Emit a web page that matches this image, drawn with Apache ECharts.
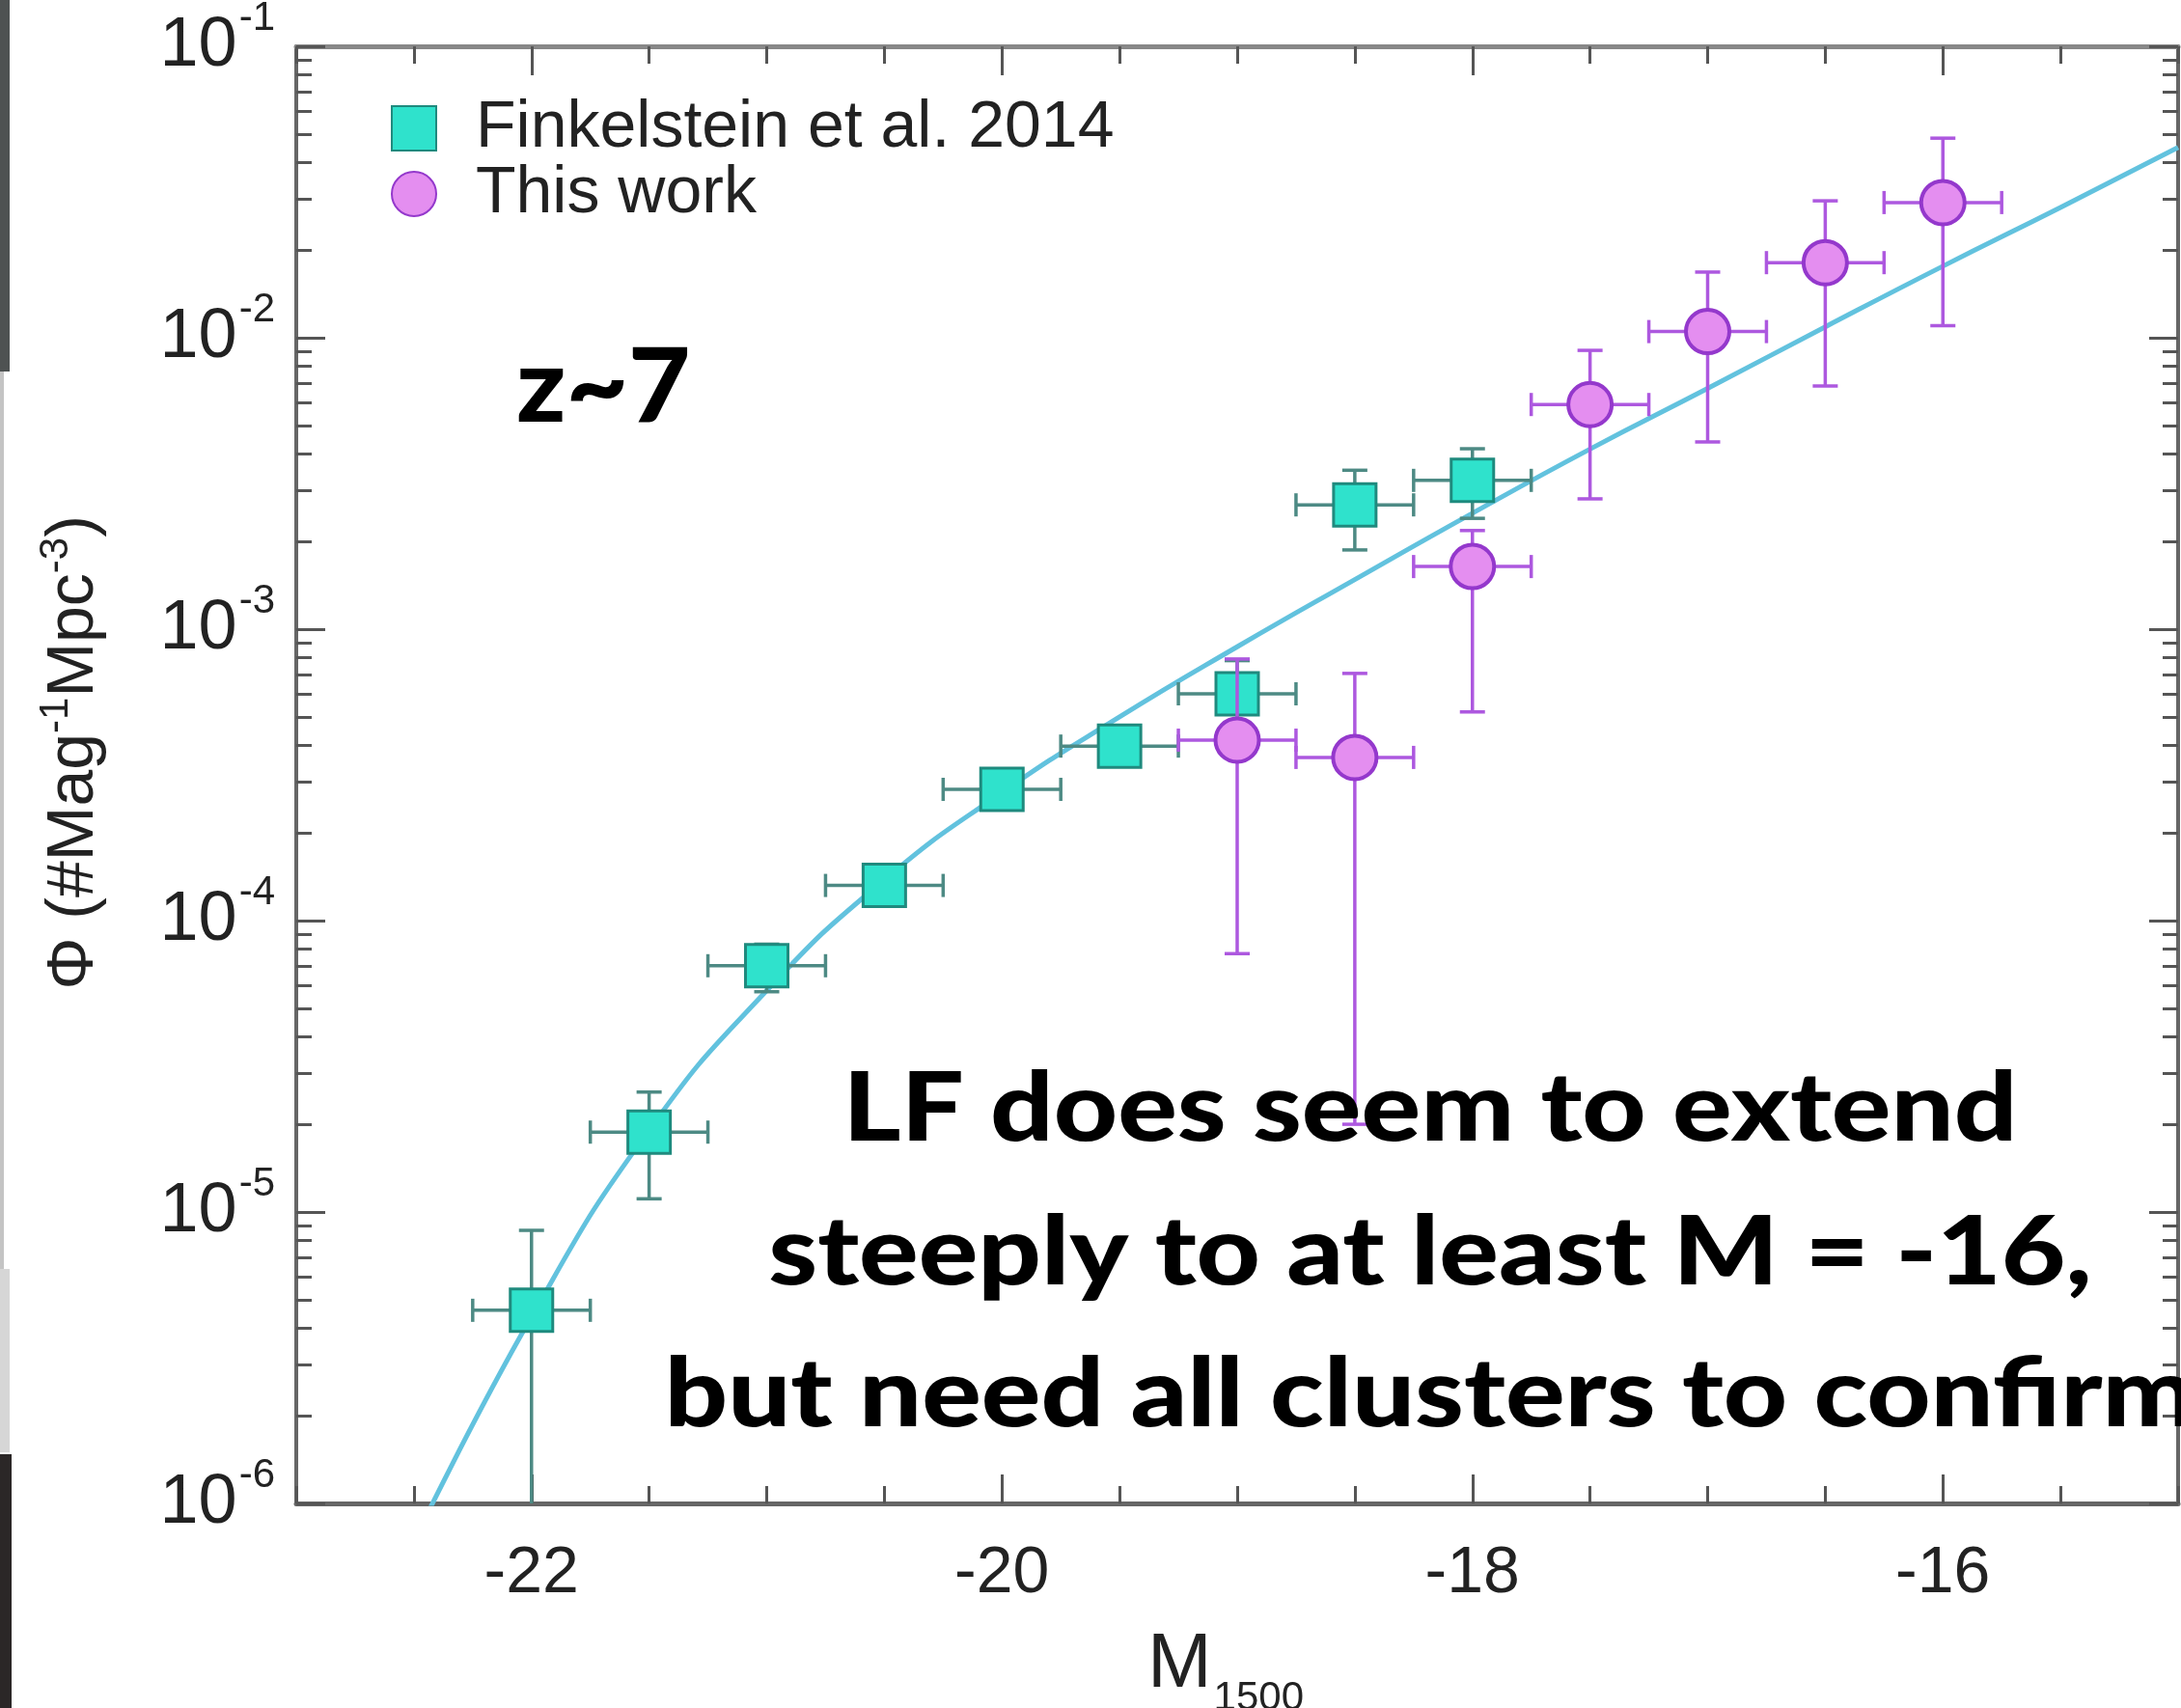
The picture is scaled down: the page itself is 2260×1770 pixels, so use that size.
<!DOCTYPE html>
<html><head><meta charset="utf-8">
<script src="https://cdn.jsdelivr.net/npm/echarts@6/dist/echarts.min.js"></script>
<style>html,body{margin:0;padding:0;background:#fff;}#c{width:2260px;height:1770px;}</style>
</head><body><div id="c"></div>
<script>
// ---------- data ----------
const xTickLabels = [-22, -20, -18, -16];
const xMinorStep = 0.5;
const yDecades = [1e-6, 1e-5, 1e-4, 1e-3, 1e-2, 1e-1];
const yDecadeExponents = ['-6', '-5', '-4', '-3', '-2', '-1'];
const yMinorMultipliers = [2, 3, 4, 5, 6, 7, 8, 9];

// Finkelstein et al. 2014 (squares)
const finkM    = [-22, -21.5, -21, -20.5, -20, -19.5, -19, -18.5, -18];
const finkPhi  = [4.6e-6, 1.88e-5, 7.0e-5, 1.32e-4, 2.82e-4, 3.97e-4, 6.0e-4, 2.67e-3, 3.24e-3];
const finkLo   = [1e-7, 1.11e-5, 5.7e-5, 1.2e-4, 2.6e-4, 3.65e-4, 4.6e-4, 1.87e-3, 2.4e-3];
const finkHi   = [8.65e-6, 2.58e-5, 8.3e-5, 1.45e-4, 3.05e-4, 4.3e-4, 7.8e-4, 3.51e-3, 4.16e-3];
const finkMErr = [0.25, 0.25, 0.25, 0.25, 0.25, 0.25, 0.25, 0.25, 0.25];

// This work (circles)
const workM    = [-19, -18.5, -18, -17.5, -17, -16.5, -16];
const workPhi  = [4.16e-4, 3.63e-4, 1.64e-3, 5.9e-3, 1.05e-2, 1.81e-2, 2.91e-2];
const workLo   = [7.7e-5, 2.0e-5, 5.2e-4, 2.8e-3, 4.39e-3, 6.83e-3, 1.10e-2];
const workHi   = [7.9e-4, 7.05e-4, 2.18e-3, 9.05e-3, 1.68e-2, 2.95e-2, 4.84e-2];
const workMErr = [0.25, 0.25, 0.25, 0.25, 0.25, 0.25, 0.25];

// fitted luminosity function curve
const fitM   = [-22.5, -22.0, -21.5, -21.0, -20.5, -20.0, -19.5, -19.0, -18.5, -18.0, -17.5, -17.0, -16.5, -16.0, -15.5, -15.0];
const fitPhi = [7.4e-7, 4.37e-6, 1.91e-5, 5.75e-5, 1.38e-4, 2.75e-4, 5.0e-4, 8.7e-4, 1.48e-3, 2.5e-3, 4.15e-3, 6.7e-3, 1.09e-2, 1.76e-2, 2.8e-2, 4.5e-2];

// ---------- build ----------
const yMinorTicks = [];
yDecades.slice(0, -1).forEach(d => yMinorMultipliers.forEach(k => yMinorTicks.push(k * d)));

const FONT = 'Liberation Sans, Arial, Helvetica, sans-serif';
const AXIS_COLOR = '#666';
const TICK_COLOR = '#555';
const TEXT_COLOR = '#222';

const finkData = finkM.map((m, i) => [m, finkPhi[i]]);
const workData = workM.map((m, i) => [m, workPhi[i]]);
const finkErr = finkM.map((m, i) => [m, finkPhi[i], finkLo[i], finkHi[i], finkMErr[i]]);
const workErr = workM.map((m, i) => [m, workPhi[i], workLo[i], workHi[i], workMErr[i]]);
const fitData = fitM.map((m, i) => [m, fitPhi[i]]);

function errRender(color, lw, capW, capH) {
  return function (params, api) {
    const m = api.value(0), phi = api.value(1), lo = api.value(2), hi = api.value(3), dm = api.value(4);
    const c = api.coord([m, phi]);
    const l = api.coord([m - dm, phi])[0];
    const r = api.coord([m + dm, phi])[0];
    const t = api.coord([m, hi])[1];
    const b = api.coord([m, lo])[1];
    const style = { stroke: color, lineWidth: lw, fill: null };
    const ln = (x1, y1, x2, y2) => ({ type: 'line', shape: { x1, y1, x2, y2 }, style });
    return {
      type: 'group',
      children: [
        ln(l, c[1], r, c[1]),
        ln(l, c[1] - capH / 2, l, c[1] + capH / 2),
        ln(r, c[1] - capH / 2, r, c[1] + capH / 2),
        ln(c[0], t, c[0], b),
        ln(c[0] - capW / 2, t, c[0] + capW / 2, t),
        ln(c[0] - capW / 2, b, c[0] + capW / 2, b)
      ]
    };
  };
}

const common = { min: -23, max: -15, type: 'value', splitLine: { show: false } };
const commonY = { type: 'log', logBase: 10, min: 1e-6, max: 1e-1, splitLine: { show: false } };
const noteFont = '900 100px Lato, sans-serif';

const chart = echarts.init(document.getElementById('c'), null, { renderer: 'canvas' });
chart.setOption({
  animation: false,
  backgroundColor: '#ffffff',
  grid: { left: 307, top: 48, width: 1950, height: 1510, containLabel: false, outerBoundsMode: 'none' },
  legend: {
    orient: 'vertical', left: 405, top: 99, padding: 0, itemGap: 0,
    itemWidth: 46, itemHeight: 46,
    data: ['Finkelstein et al. 2014', 'This work'],
    textStyle: { fontSize: 68, fontFamily: FONT, color: TEXT_COLOR, lineHeight: 37, padding: [0, 0, 28, 36] }
  },
  xAxis: [
    Object.assign({}, common, {
      position: 'bottom',
      axisLine: { show: true, lineStyle: { color: AXIS_COLOR, width: 5 } },
      axisTick: { show: true, inside: true, length: 30, customValues: xTickLabels, lineStyle: { color: TICK_COLOR, width: 3 } },
      axisLabel: { show: true, customValues: xTickLabels, fontSize: 68, fontFamily: FONT, color: TEXT_COLOR, margin: 39 },
      name: '{m|M}{s|1500}', nameLocation: 'middle', nameGap: 104,
      nameTextStyle: {
        padding: [0, 24, 0, 0],
        rich: {
          m: { fontSize: 80, lineHeight: 80, fontFamily: FONT, color: TEXT_COLOR },
          s: { fontSize: 42, lineHeight: 42, fontFamily: FONT, color: TEXT_COLOR, padding: [70, 0, 0, 2] }
        }
      }
    }),
    Object.assign({}, common, {
      position: 'bottom', interval: xMinorStep,
      axisLine: { show: false },
      axisTick: { show: true, inside: true, length: 18, lineStyle: { color: TICK_COLOR, width: 3 } },
      axisLabel: { show: false }
    }),
    Object.assign({}, common, {
      position: 'top',
      axisLine: { show: true, lineStyle: { color: '#888', width: 5 } },
      axisTick: { show: true, inside: true, length: 30, customValues: xTickLabels, lineStyle: { color: TICK_COLOR, width: 3 } },
      axisLabel: { show: false }
    }),
    Object.assign({}, common, {
      position: 'top', interval: xMinorStep,
      axisLine: { show: false },
      axisTick: { show: true, inside: true, length: 18, lineStyle: { color: TICK_COLOR, width: 3 } },
      axisLabel: { show: false }
    })
  ],
  yAxis: [
    Object.assign({}, commonY, {
      position: 'left',
      axisLine: { show: true, lineStyle: { color: AXIS_COLOR, width: 4 } },
      axisTick: { show: true, inside: true, length: 30, customValues: yDecades, lineStyle: { color: TICK_COLOR, width: 3 } },
      axisLabel: {
        show: true, customValues: yDecades, margin: 22,
        formatter: function (v) {
          let idx = 0;
          yDecades.forEach((d, i) => { if (Math.abs(Math.log10(d) - Math.log10(v)) < 1e-6) idx = i; });
          return '{b|10}{s|' + yDecadeExponents[idx] + '}';
        },
        rich: {
          b: { fontSize: 72, lineHeight: 72, fontFamily: FONT, color: TEXT_COLOR },
          s: { fontSize: 42, lineHeight: 42, fontFamily: FONT, color: TEXT_COLOR, padding: [0, 0, 58, 2] }
        }
      },
      name: '{a|Φ (#Mag}{s|-1}{a|Mpc}{s|-3}{a|)}', nameLocation: 'middle', nameRotate: 90, nameGap: 196,
      nameTextStyle: {
        padding: [0, 0, 0, 46],
        rich: {
          a: { fontSize: 68, lineHeight: 68, fontFamily: FONT, color: TEXT_COLOR },
          s: { fontSize: 42, lineHeight: 42, fontFamily: FONT, color: TEXT_COLOR, padding: [0, 0, 38, 0] }
        }
      }
    }),
    Object.assign({}, commonY, {
      position: 'left',
      axisLine: { show: false },
      axisTick: { show: true, inside: true, length: 16, customValues: yMinorTicks, lineStyle: { color: TICK_COLOR, width: 3 } },
      axisLabel: { show: false }
    }),
    Object.assign({}, commonY, {
      position: 'right',
      axisLine: { show: true, lineStyle: { color: AXIS_COLOR, width: 4 } },
      axisTick: { show: true, inside: true, length: 30, customValues: yDecades, lineStyle: { color: TICK_COLOR, width: 3 } },
      axisLabel: { show: false }
    }),
    Object.assign({}, commonY, {
      position: 'right',
      axisLine: { show: false },
      axisTick: { show: true, inside: true, length: 16, customValues: yMinorTicks, lineStyle: { color: TICK_COLOR, width: 3 } },
      axisLabel: { show: false }
    })
  ],
  series: [
    {
      name: 'fit', type: 'line', data: fitData, smooth: 0.5, symbol: 'none', z: 1,
      lineStyle: { color: '#62c2de', width: 5 }, silent: true
    },
    {
      name: 'finkErr', type: 'custom', data: finkErr, clip: true, z: 2,
      encode: { x: 0, y: 1 }, renderItem: errRender('#4d8a84', 3.5, 26, 24)
    },
    {
      name: 'Finkelstein et al. 2014', type: 'scatter', data: finkData, z: 3,
      symbol: 'rect', symbolSize: 44,
      itemStyle: { color: '#2fe2cc', borderColor: '#1f8a7e', borderWidth: 3, opacity: 1 }
    },
    {
      name: 'workErr', type: 'custom', data: workErr, clip: true, z: 4,
      encode: { x: 0, y: 1 }, renderItem: errRender('#ad58df', 3.5, 26, 24)
    },
    {
      name: 'This work', type: 'scatter', data: workData, z: 5,
      symbol: 'circle', symbolSize: 45,
      itemStyle: { color: '#e48ef0', borderColor: '#9438cc', borderWidth: 4, opacity: 1 }
    }
  ],
  graphic: [
    { type: 'rect', shape: { x: 0, y: 0, width: 10, height: 385 }, style: { fill: '#4e5252' }, z: 0 },
    { type: 'rect', shape: { x: 0, y: 385, width: 4, height: 930 }, style: { fill: '#c4c4c4' }, z: 0 },
    { type: 'rect', shape: { x: 0, y: 1315, width: 10, height: 190 }, style: { fill: '#d6d6d6' }, z: 0 },
    { type: 'rect', shape: { x: 0, y: 1507, width: 12, height: 263 }, style: { fill: '#2b2727' }, z: 0 },
    { type: 'text', x: 535, y: 403, z: 100, scaleX: 1.05,
      style: { text: 'z~7', font: '900 106px Lato, sans-serif', fill: '#000', align: 'left', verticalAlign: 'middle' } },
    { type: 'text', x: 1482, y: 1150, z: 100, scaleX: 1.15,
      style: { text: 'LF does seem to extend', font: noteFont, fill: '#000', align: 'center', verticalAlign: 'middle' } },
    { type: 'text', x: 1482, y: 1299, z: 100, scaleX: 1.15,
      style: { text: 'steeply to at least M = -16,', font: noteFont, fill: '#000', align: 'center', verticalAlign: 'middle' } },
    { type: 'text', x: 1482, y: 1446, z: 100, scaleX: 1.15,
      style: { text: 'but need all clusters to confirm', font: noteFont, fill: '#000', align: 'center', verticalAlign: 'middle' } }
  ]
});
</script></body></html>
